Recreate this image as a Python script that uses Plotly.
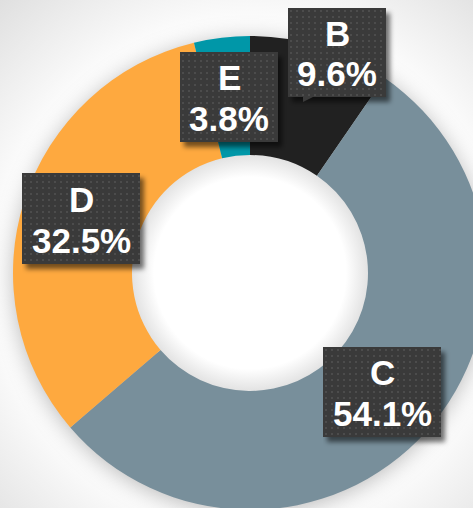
import base64
import plotly.graph_objects as go

# ---- data ----
labels = ["B", "C", "D", "E"]
values = [9.6, 54.1, 32.5, 3.8]
colors = ["#212121", "#788F9B", "#FEA93F", "#0097A8"]

# ---- canvas geometry (px) ----
W, H = 500, 520
CX, CY, R, RH = 250, 273, 237, 118

# label boxes: left, top, width, height
boxes = {
    "B": (288, 8, 98, 89),
    "E": (180, 52, 98, 90),
    "D": (22, 173, 118, 91),
    "C": (323, 347, 118, 90),
}


def uri(svg):
    return "data:image/svg+xml;base64," + base64.b64encode(svg.encode()).decode()


bg_svg = f'''<svg xmlns="http://www.w3.org/2000/svg" width="{W}" height="{H}" viewBox="0 0 {W} {H}">
<defs>
<radialGradient id="bg" gradientUnits="userSpaceOnUse" cx="{CX}" cy="{CY}" r="400">
<stop offset="0.6" stop-color="#ffffff"/><stop offset="1" stop-color="#d8d8d8"/>
</radialGradient>
<filter id="blur" x="-30%" y="-30%" width="160%" height="160%"><feGaussianBlur stdDeviation="11"/></filter>
<radialGradient id="hole" gradientUnits="userSpaceOnUse" cx="{CX}" cy="{CY}" r="{RH + 2}">
<stop offset="0.8" stop-color="#ffffff"/><stop offset="1" stop-color="#e0e0e0"/>
</radialGradient>
</defs>
<rect width="{W}" height="{H}" fill="url(#bg)"/>
<circle cx="{CX}" cy="{CY + 3}" r="{R}" fill="#000" fill-opacity="0.28" filter="url(#blur)"/>
<circle cx="{CX}" cy="{CY}" r="{RH + 4}" fill="url(#hole)"/>
</svg>'''


def box_svg(w, h, pointer=False):
    ptr = ""
    if pointer:
        ptr = f'<polygon points="15,{h - 1} 27,{h - 1} 15,{h + 5}" fill="#3b3b3b"/>'
    return f'''<svg xmlns="http://www.w3.org/2000/svg" width="{w + 12}" height="{h + 12}" viewBox="0 0 {w + 12} {h + 12}">
<defs>
<pattern id="p" width="6" height="6" patternUnits="userSpaceOnUse">
<rect width="6" height="6" fill="#3a3a3a"/><rect x="2" y="2" width="2" height="2" fill="#4c4c4c"/>
</pattern>
<filter id="s" x="-20%" y="-20%" width="140%" height="140%"><feGaussianBlur stdDeviation="2.5"/></filter>
</defs>
<rect x="4" y="5" width="{w}" height="{h}" fill="#000" fill-opacity="0.55" filter="url(#s)"/>
<rect x="0" y="0" width="{w}" height="{h}" fill="url(#p)"/>
{ptr}
</svg>'''


fig = go.Figure(
    go.Pie(
        labels=labels,
        values=values,
        marker=dict(colors=colors, line=dict(width=0)),
        sort=False,
        direction="clockwise",
        rotation=0,
        hole=RH / R,
        textinfo="none",
        hoverinfo="label+percent",
        showlegend=False,
        domain=dict(
            x=[(CX - R) / W, (CX + R) / W],
            y=[1 - (CY + R) / H, 1 - (CY - R) / H],
        ),
    )
)

images = [
    dict(source=uri(bg_svg), xref="paper", yref="paper", x=0, y=1,
         sizex=1, sizey=1, xanchor="left", yanchor="top",
         sizing="stretch", layer="below")
]
annotations = []
font = dict(family="Liberation Sans, Arial, sans-serif", size=35, color="white", weight="bold")
for lab, val in zip(labels, values):
    l, t, w, h = boxes[lab]
    images.append(dict(source=uri(box_svg(w, h, pointer=(lab == "B"))),
                       xref="paper", yref="paper", x=l / W, y=1 - t / H,
                       sizex=(w + 12) / W, sizey=(h + 12) / H,
                       xanchor="left", yanchor="top", sizing="stretch", layer="above"))
    cx = (l + w / 2) / W
    cy = t + h / 2
    annotations.append(dict(text=lab, xref="paper", yref="paper", x=cx, y=1 - (cy - 19.5) / H,
                            xanchor="center", yanchor="middle", showarrow=False, font=font))
    annotations.append(dict(text=f"{val:.1f}%", xref="paper", yref="paper", x=cx, y=1 - (cy + 21.5) / H,
                            xanchor="center", yanchor="middle", showarrow=False, font=font))

fig.update_layout(
    width=W, height=H,
    margin=dict(l=0, r=0, t=0, b=0),
    paper_bgcolor="#f2f2f2",
    plot_bgcolor="#f2f2f2",
    images=images,
    annotations=annotations,
)

fig.write_html(
    "out.html",
    config={"displayModeBar": False},
    post_script="document.documentElement.style.overflow='hidden';"
                "document.body.style.overflow='hidden';document.body.style.margin='0';",
)
